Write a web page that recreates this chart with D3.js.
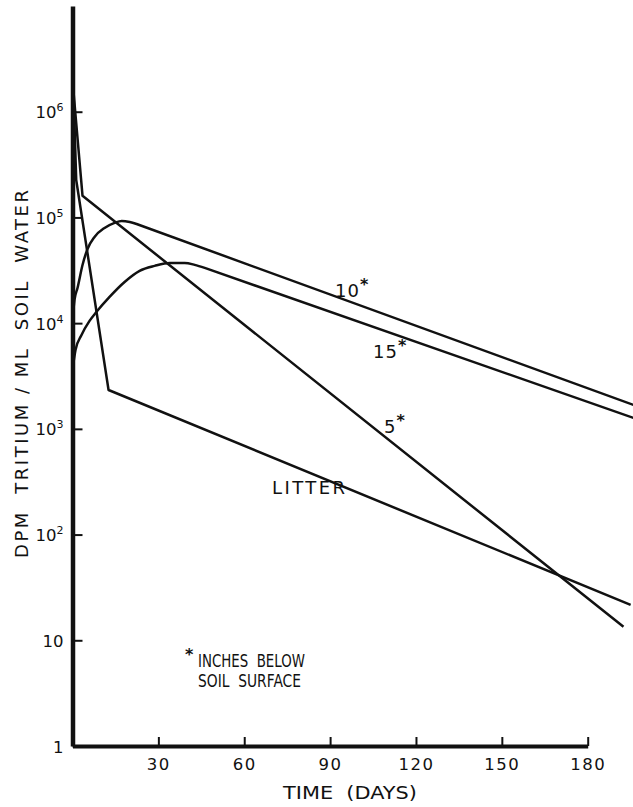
<!DOCTYPE html>
<html>
<head>
<meta charset="utf-8">
<script src="https://cdn.jsdelivr.net/npm/d3@7"></script>
<style>
  body { margin: 0; background: #fff; }
  svg { display: block; }
  text { font-family: "DejaVu Sans", sans-serif; fill: #111; }
</style>
</head>
<body>
<div id="chart"></div>
<script>
// tritium in soil water
const litterDays = [0.35, 1.3, 12.6, 195]
const litterDpm = [1.54e6, 2.26e5, 2330, 21.6]

const in5Days = [0.35, 3.5, 192.5]
const in5Dpm = [1.54e6, 1.6e5, 13.4]

const in10Days = [0, 0.7, 1.75, 3.5, 5.25, 7.7, 11.2, 14.7, 17.2, 20, 22.4, 196]
const in10Dpm = [10700, 16600, 21500, 35500, 50300, 65400, 79600, 88800, 92700, 90600, 86700, 1683]

const in15Days = [0, 1.05, 3.15, 5.95, 8.4, 12.95, 18.2, 23.45, 28.7, 34, 39.2, 42.7, 46.2, 196]
const in15Dpm = [3610, 5580, 7730, 10500, 12800, 17700, 24500, 31200, 34800, 37100, 37100, 35600, 33300, 1269]

const xTicks = [30, 60, 90, 120, 150, 180]
const yExponents = [0, 1, 2, 3, 4, 5, 6]

const params = {
  fullWidth: 633,
  fullHeight: 807
}

const svg = d3.select("#chart").append("svg")
  .attr("width", params.fullWidth)
  .attr("height", params.fullHeight)

const x = d3.scaleLinear()
  .domain([0, 180])
  .range([72.5, 587.7])

const y = d3.scaleLog()
  .domain([1, 1e7])
  .range([746, 6])

function zip(days, vals) {
  return days.map((d, i) => ({ day: d, v: vals[i] }))
}

const straight = d3.line()
  .x(d => x(d.day))
  .y(d => y(d.v))
const smooth = d3.line()
  .curve(d3.curveMonotoneX)
  .x(d => x(d.day))
  .y(d => y(d.v))

// humped curves: smooth rise, then a straight log-linear decline
const series = [
  { name: "litter", pts: zip(litterDays, litterDpm), hump: false },
  { name: "5in", pts: zip(in5Days, in5Dpm), hump: false },
  { name: "10in", pts: zip(in10Days, in10Dpm), hump: true },
  { name: "15in", pts: zip(in15Days, in15Dpm), hump: true }
]

series.forEach(s => {
  const d = s.hump
    ? smooth(s.pts.slice(0, -1)) + straight(s.pts.slice(-2))
    : straight(s.pts)
  svg.append("path")
    .attr("fill", "none")
    .attr("stroke", "#111")
    .attr("stroke-width", 2.5)
    .attr("stroke-linejoin", "round")
    .attr("d", d)
})

// x axis
const xAxisCall = d3.axisBottom(x)
  .tickValues(xTicks)
  .tickSizeInner(-9)
  .tickSizeOuter(0)
  .tickPadding(12)
  .tickFormat(d => d)

const xAxisGroup = svg.append("g")
  .attr("transform", "translate(0,746)")
  .call(xAxisCall)
xAxisGroup.select(".domain").attr("stroke", "#111").attr("stroke-width", 4)
xAxisGroup.selectAll(".tick line").attr("stroke", "#111").attr("stroke-width", 2)
xAxisGroup.selectAll("text")
  .attr("font-size", "16.5px")
  .attr("letter-spacing", "1.5px")
  .style("font-family", "DejaVu Sans")

// y axis
const yAxisCall = d3.axisLeft(y)
  .tickValues(yExponents.map(e => Math.pow(10, e)))
  .tickSizeInner(-10)
  .tickSizeOuter(0)
  .tickPadding(9)
  .tickFormat(() => "")

const yAxisGroup = svg.append("g")
  .attr("transform", "translate(72.5,0)")
  .call(yAxisCall)
yAxisGroup.select(".domain").attr("stroke", "#111").attr("stroke-width", 4.5)
yAxisGroup.selectAll(".tick line").attr("stroke", "#111").attr("stroke-width", 2)
yAxisGroup.selectAll(".tick text")
  .attr("dy", "6")
  .attr("font-size", "16.5px")
  .style("font-family", "DejaVu Sans")
  .each(function (d) {
    const e = Math.round(Math.log10(d))
    const t = d3.select(this)
    if (e === 0) { t.text("1"); return }
    t.append("tspan").text("10")
    if (e > 1) {
      t.append("tspan").attr("dy", "-7").attr("font-size", "11px").text(e)
    }
  })

// axis titles
svg.append("text")
  .attr("x", 350)
  .attr("y", 799)
  .attr("text-anchor", "middle")
  .attr("font-size", "18px")
  .attr("textLength", 134)
  .attr("lengthAdjust", "spacingAndGlyphs")
  .style("white-space", "pre")
  .text("TIME  (DAYS)")

svg.append("text")
  .attr("transform", "translate(28,374) rotate(-90)")
  .attr("text-anchor", "middle")
  .attr("font-size", "18px")
  .attr("textLength", 368)
  .attr("lengthAdjust", "spacing")
  .style("white-space", "pre")
  .text("DPM  TRITIUM / ML  SOIL  WATER")

// curve labels
function depthLabel(xp, yp, num) {
  const t = svg.append("text")
    .attr("x", xp)
    .attr("y", yp)
    .attr("font-size", "18px")
    .attr("letter-spacing", "1px")
  t.append("tspan").text(num)
  t.append("tspan").attr("dy", "-7").attr("font-size", "16px").attr("font-weight", "bold").text("*")
}
depthLabel(335, 297, "10")
depthLabel(373, 358, "15")
depthLabel(384, 433, "5")

svg.append("text")
  .attr("x", 272)
  .attr("y", 494)
  .attr("font-size", "18px")
  .attr("textLength", 73)
  .attr("lengthAdjust", "spacing")
  .text("LITTER")

svg.append("text")
  .attr("x", 185)
  .attr("y", 660)
  .attr("font-size", "16px")
  .attr("font-weight", "bold")
  .text("*")

svg.append("text")
  .attr("x", 198)
  .attr("y", 667)
  .attr("font-size", "18px")
  .attr("textLength", 107)
  .attr("lengthAdjust", "spacingAndGlyphs")
  .style("white-space", "pre")
  .text("INCHES  BELOW")

svg.append("text")
  .attr("x", 198)
  .attr("y", 687)
  .attr("font-size", "18px")
  .attr("textLength", 103)
  .attr("lengthAdjust", "spacingAndGlyphs")
  .style("white-space", "pre")
  .text("SOIL  SURFACE")
</script>
</body>
</html>
